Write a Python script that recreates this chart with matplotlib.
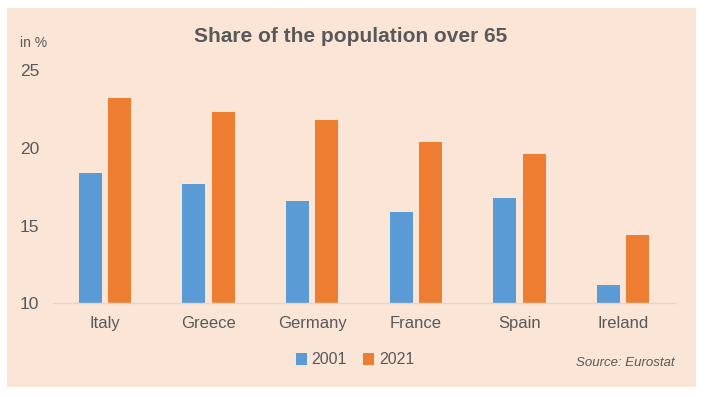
import matplotlib.pyplot as plt
import numpy as np
from matplotlib.patches import Rectangle

# ------------------------------------------
# Data
# ------------------------------------------

countries = ["Italy", "Greece", "Germany", "France", "Spain", "Ireland"]
share_2001 = [18.4, 17.7, 16.6, 15.9, 16.8, 11.2]
share_2021 = [23.2, 22.3, 21.8, 20.4, 19.6, 14.4]
years = ["2001", "2021"]

blue = "#5B9BD5"
orange = "#ED7D31"
panel = "#FBE5D6"
grey = "#595959"

plt.rcParams['font.family'] = ['Liberation Sans', 'DejaVu Sans']

fig = plt.figure(figsize=(7.07, 3.97), dpi=100)
fig.patch.set_facecolor("white")

# peach panel behind the chart
fig.patches.append(Rectangle((7/707, 1-387/397), 689/707, 379/397,
                             transform=fig.transFigure, facecolor=panel,
                             edgecolor="none", zorder=-10))

ax = fig.add_axes([53/707, 1-303.3/397, 622/707, 233.3/397])
ax.set_facecolor("none")
ax.set_zorder(1)

x = np.arange(len(countries))
w = 0.222
gap = 0.058
ax.bar(x - (w + gap)/2, np.array(share_2001) - 10, w, bottom=10, color=blue, label=years[0])
ax.bar(x + (w + gap)/2, np.array(share_2021) - 10, w, bottom=10, color=orange, label=years[1])

ax.set_xlim(-0.5, len(countries) - 0.5)
ax.set_ylim(10, 25)
ax.set_yticks([10, 15, 20, 25])
ax.set_xticks(x)
ax.set_xticklabels(countries)

for s in ["top", "right", "left"]:
    ax.spines[s].set_visible(False)
ax.spines["bottom"].set_color("#D9D9D9")
ax.spines["bottom"].set_linewidth(1)
ax.tick_params(axis="both", length=0, colors=grey, labelsize=12)
ax.tick_params(axis="y", pad=10, labelsize=12.5)
ax.tick_params(axis="x", pad=9.5, labelsize=12)

fig.text(351/707, 1-37/397, "Share of the population over 65", ha="center", va="center",
         fontsize=15, fontweight="bold", color=grey)
fig.text(20/707, 1-43/397, "in %", ha="left", va="center", fontsize=10, color=grey)

leg = ax.legend(loc="center", bbox_to_anchor=(355/707, 1-360/397), bbox_transform=fig.transFigure,
                ncol=2, frameon=False, fontsize=11.5, handlelength=0.7, handleheight=0.7,
                handletextpad=0.3, columnspacing=1.0)
for t in leg.get_texts():
    t.set_color(grey)

fig.text(674/707, 1-363/397, "Source: Eurostat", ha="right", va="center",
         fontsize=9.5, style="italic", color=grey)

plt.savefig("out.png", dpi=100)
